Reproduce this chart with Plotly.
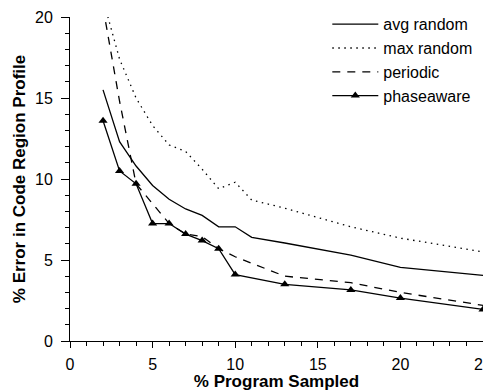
import plotly.graph_objects as go

# Data
avg_x = [2, 3, 4, 5, 6, 7, 8, 9, 10, 11, 13, 17, 20, 25]
avg_random = [15.5, 12.3, 10.8, 9.6, 8.75, 8.15, 7.75, 7.05, 7.05, 6.4, 6.05, 5.3, 4.55, 4.05]

max_x = [2, 3, 4, 5, 6, 7, 8, 9, 10, 11, 13, 17, 20, 25]
max_random = [21.1, 17.4, 15.0, 13.3, 12.1, 11.7, 10.6, 9.4, 9.8, 8.7, 8.2, 7.05, 6.35, 5.5]

per_x = [2, 3, 4, 5, 6, 7, 8, 9, 10, 13, 17, 20, 25]
periodic = [20.6, 14.8, 9.7, 8.5, 7.25, 6.6, 6.45, 5.7, 5.2, 4.0, 3.6, 3.0, 2.2]

pa_x = [2, 3, 4, 5, 6, 7, 8, 9, 10, 13, 17, 20, 25]
phaseaware = [13.6, 10.5, 9.7, 7.25, 7.25, 6.6, 6.2, 5.7, 4.1, 3.5, 3.15, 2.65, 1.95]

FONT = "Liberation Sans, Arial, Helvetica, sans-serif"
LW = 1.3

fig = go.Figure()
fig.add_trace(go.Scatter(x=avg_x, y=avg_random, mode="lines", name="avg random",
                         line=dict(color="black", width=LW)))
fig.add_trace(go.Scatter(x=max_x, y=max_random, mode="lines", name="max random",
                         line=dict(color="black", width=LW, dash="1.5px,4.5px")))
fig.add_trace(go.Scatter(x=per_x, y=periodic, mode="lines", name="periodic",
                         line=dict(color="black", width=LW, dash="8px,7px")))
fig.add_trace(go.Scatter(x=pa_x, y=phaseaware, mode="lines+markers", name="phaseaware",
                         line=dict(color="black", width=LW), cliponaxis=False,
                         marker=dict(symbol="triangle-up", size=8, color="black")))

axis_common = dict(
    showline=True, linecolor="black", linewidth=1,
    showgrid=False, zeroline=False, automargin=False,
    ticks="outside", tickcolor="black", tickwidth=1,
    tickfont=dict(family=FONT, size=16, color="black"),
    ticklabeloverflow="allow",
)

fig.update_xaxes(range=[0, 25], tick0=0, dtick=5, ticklen=6, ticklabelstandoff=3,
                 minor=dict(ticks="outside", ticklen=4, dtick=1, tickcolor="black",
                            tickwidth=1, showgrid=False),
                 title=dict(text="<b>% Program Sampled</b>", standoff=8,
                            font=dict(family=FONT, size=17, color="black")),
                 **axis_common)
fig.update_yaxes(range=[0, 20], tick0=0, dtick=5, ticklen=8, ticklabelstandoff=5,
                 minor=dict(ticks="outside", ticklen=4, dtick=1, tickcolor="black",
                            tickwidth=1, showgrid=False),
                 title=dict(text="<b>% Error in Code Region Profile</b>", standoff=5,
                            font=dict(family=FONT, size=17, color="black")),
                 **axis_common)

# the page body adds an 8px offset, so the figure is 8px smaller than the window
fig.update_layout(
    width=483, height=383,
    margin=dict(l=62, r=8, t=9, b=50, autoexpand=False),
    paper_bgcolor="white", plot_bgcolor="white",
    font=dict(family=FONT, size=16, color="black"),
    showlegend=True,
    legend=dict(x=0.623, y=1.03, xanchor="left", yanchor="top",
                bgcolor="rgba(0,0,0,0)", borderwidth=0,
                font=dict(family=FONT, size=16, color="black"),
                itemwidth=46, tracegroupgap=0),
)

fig.write_html("out.html")
